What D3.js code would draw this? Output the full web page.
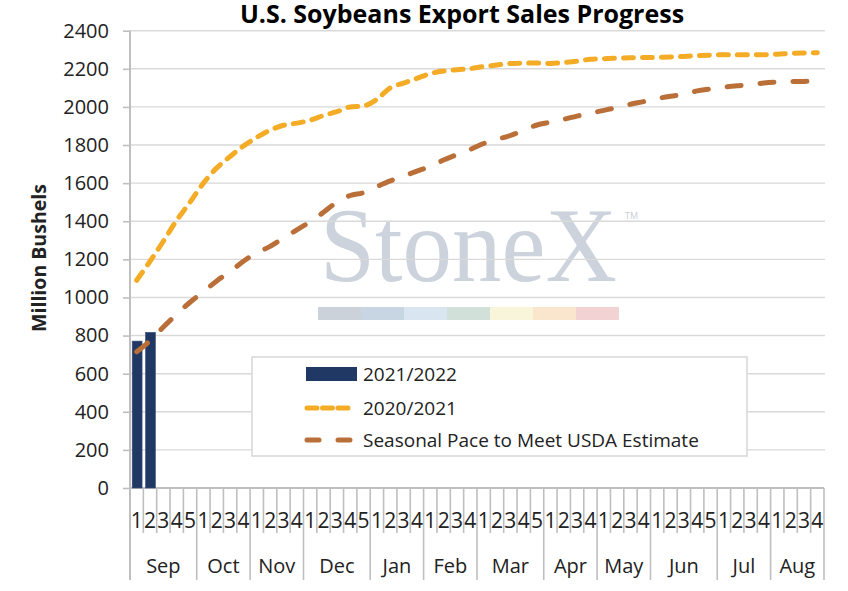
<!DOCTYPE html>
<html lang="en">
<head>
<meta charset="UTF-8">
<title>U.S. Soybeans Export Sales Progress</title>
<script src="https://cdn.jsdelivr.net/npm/d3@7"></script>
<style>
  body { margin: 0; background: #fff; }
  text { font-family: "Open Sans", Lato, sans-serif; fill: #222; }
</style>
</head>
<body>
<svg id="vis" width="848" height="591"></svg>
<script>
// months and how many weekly reports fall in each
var months = ["Sep","Oct","Nov","Dec","Jan","Feb","Mar","Apr","May","Jun","Jul","Aug"];
var weeksPerMonth = [5,4,4,5,4,4,5,4,4,5,4,4];

// million bushels, cumulative
var sales2122 = [771, 817];
var sales2021 = [1090,1190,1295,1405,1500,1600,1680,1740,1795,1840,1878,1904,1915,1930,1955,1975,
  2000,2005,2040,2100,2125,2150,2175,2188,2195,2201,2212,2220,2228,2230,2230,2228,2233,2240,2250,
  2253,2256,2258,2259,2260,2262,2265,2269,2272,2274,2274,2274,2274,2277,2281,2283,2284];
var seasonalPace = [715,773,845,912,975,1030,1087,1135,1190,1235,1268,1312,1355,1397,1447,1500,
  1535,1550,1582,1612,1637,1663,1688,1721,1750,1777,1808,1830,1850,1878,1905,1920,1935,1952,1967,
  1982,1997,2014,2028,2044,2056,2066,2084,2094,2104,2111,2116,2126,2131,2133,2134,2135];

var yTicks = [0,200,400,600,800,1000,1200,1400,1600,1800,2000,2200,2400];
var seriesNames = ["2021/2022", "2020/2021", "Seasonal Pace to Meet USDA Estimate"];

var navy = "#203864", orange = "#F4AC26", brown = "#B96F37";

// one key per week: "Sep-1", "Sep-2", ...
var weeks = [];
months.forEach(function(m, i){
  for (var w = 1; w <= weeksPerMonth[i]; w++) weeks.push({key: m + "-" + w, month: m, num: w});
});
var keys = weeks.map(function(d){ return d.key; });

var plotL = 130, plotR = 824, plotT = 30.7, plotB = 488;

var x = d3.scaleBand().domain(keys).range([plotL, plotR]).padding(0);
var y = d3.scaleLinear().domain([0, 2400]).range([plotB, plotT]);

var svg = d3.select("#vis");

// watermark
var wm = svg.append("g").attr("class", "watermark");
wm.append("text")
  .attr("x", 320).attr("y", 281)
  .attr("textLength", 297).attr("lengthAdjust", "spacingAndGlyphs")
  .style("font-family", "'Liberation Serif', 'DejaVu Serif', serif")
  .style("font-size", "106px")
  .style("fill", "#ccd3dc")
  .text("StoneX");
wm.append("text")
  .attr("x", 625).attr("y", 219)
  .style("font-size", "9px").style("fill", "#c8ced6")
  .text("TM");
var stripColors = ["#ccd2da","#c8d5e2","#d9e6f2","#d1e0d9","#f9f5db","#fae6cc","#f2d2d2"];
var strip = d3.scaleBand().domain(d3.range(stripColors.length)).range([318, 619]);
wm.selectAll("rect").data(stripColors).join("rect")
  .attr("x", function(d, i){ return strip(i); })
  .attr("y", 307).attr("width", strip.bandwidth()).attr("height", 13)
  .attr("fill", function(d){ return d; });

// gridlines
svg.append("g").selectAll("line").data(yTicks.filter(function(t){ return t > 0; })).join("line")
  .attr("x1", plotL).attr("x2", plotR + 1)
  .attr("y1", function(d){ return y(d); }).attr("y2", function(d){ return y(d); })
  .attr("stroke", "#d9d9d9").attr("stroke-width", 1.4);

// y axis
var yAxis = d3.axisLeft(y).tickValues(yTicks).tickSize(7).tickPadding(14).tickFormat(d3.format("d"));
var gy = svg.append("g").attr("transform", "translate(" + plotL + ",0)").call(yAxis);
gy.select(".domain").remove();
gy.selectAll(".tick line").attr("stroke", "#bfbfbf").attr("stroke-width", 1.6);
gy.selectAll(".tick text").style("font-size", "20px").style("font-family", "'Open Sans', sans-serif").attr("fill", "#222");
svg.append("line").attr("x1", plotL).attr("x2", plotL).attr("y1", plotT).attr("y2", 580)
  .attr("stroke", "#bfbfbf").attr("stroke-width", 2);

// x axis: week row + month row
svg.append("line").attr("x1", plotL).attr("x2", plotR).attr("y1", plotB).attr("y2", plotB)
  .attr("stroke", "#bfbfbf").attr("stroke-width", 2);
var gx = svg.append("g");
gx.selectAll("line.wk").data(weeks).join("line").attr("class", "wk")
  .attr("x1", function(d){ return x(d.key) + x.bandwidth(); })
  .attr("x2", function(d){ return x(d.key) + x.bandwidth(); })
  .attr("y1", plotB)
  .attr("y2", function(d, i){
    var isLast = (i == weeks.length - 1) || weeks[i + 1].month != d.month;
    return isLast ? 580 : 533;
  })
  .attr("stroke", "#bfbfbf").attr("stroke-width", 1.6);
gx.selectAll("text.wk").data(weeks).join("text").attr("class", "wk")
  .attr("x", function(d){ return x(d.key) + x.bandwidth() / 2; })
  .attr("y", 528)
  .attr("text-anchor", "middle")
  .style("font-size", "21px")
  .text(function(d){ return d.num; });
gx.selectAll("text.mo").data(months).join("text").attr("class", "mo")
  .attr("x", function(m, i){
    var first = x(m + "-1"), last = x(m + "-" + weeksPerMonth[i]) + x.bandwidth();
    return (first + last) / 2;
  })
  .attr("y", 573)
  .attr("text-anchor", "middle")
  .style("font-size", "20px")
  .text(function(m){ return m; });

// bars
svg.append("g").selectAll("rect").data(sales2122).join("rect")
  .attr("x", function(d, i){ return x(keys[i]) + 2.2; })
  .attr("width", x.bandwidth() * 0.74)
  .attr("y", function(d){ return y(d); })
  .attr("height", function(d){ return plotB - y(d); })
  .attr("fill", navy).attr("stroke", "#3a4f78").attr("stroke-width", 0.6);

// lines
var line = d3.line()
  .x(function(d, i){ return x(keys[i]) + x.bandwidth() / 2; })
  .y(function(d){ return y(d); })
  .curve(d3.curveMonotoneX);

svg.append("path").datum(sales2021).attr("d", line)
  .attr("fill", "none").attr("stroke", orange).attr("stroke-width", 5)
  .attr("stroke-dasharray", "10,9").attr("stroke-linecap", "round");
svg.append("path").datum(seasonalPace).attr("d", line)
  .attr("fill", "none").attr("stroke", brown).attr("stroke-width", 5)
  .attr("stroke-dasharray", "14,19").attr("stroke-linecap", "round");

// legend
var lg = svg.append("g");
lg.append("rect").attr("x", 252).attr("y", 357).attr("width", 495).attr("height", 99)
  .attr("fill", "#fff").attr("stroke", "#d9d9d9").attr("stroke-width", 1.6);
var rowY = [374, 408, 440];
lg.append("rect").attr("x", 306).attr("y", rowY[0] - 7).attr("width", 51).attr("height", 14).attr("fill", navy);
lg.append("line").attr("x1", 307).attr("x2", 352).attr("y1", rowY[1]).attr("y2", rowY[1])
  .attr("stroke", orange).attr("stroke-width", 5).attr("stroke-dasharray", "10,5.5").attr("stroke-linecap", "round");
lg.append("line").attr("x1", 307).attr("x2", 352).attr("y1", rowY[2]).attr("y2", rowY[2])
  .attr("stroke", brown).attr("stroke-width", 5).attr("stroke-dasharray", "12,19").attr("stroke-linecap", "round");
lg.selectAll("text").data(seriesNames).join("text")
  .attr("x", 363).attr("y", function(d, i){ return rowY[i] + 7; })
  .style("font-size", "19px")
  .text(function(d){ return d; });

// title + y label
svg.append("text").attr("x", 462).attr("y", 23).attr("text-anchor", "middle")
  .style("font-size", "25px").style("font-weight", "bold").style("fill", "#000")
  .text("U.S. Soybeans Export Sales Progress");
svg.append("text").attr("transform", "translate(46,258) rotate(-90)").attr("text-anchor", "middle")
  .style("font-size", "19.5px").style("font-weight", "bold")
  .text("Million Bushels");
</script>
</body>
</html>
